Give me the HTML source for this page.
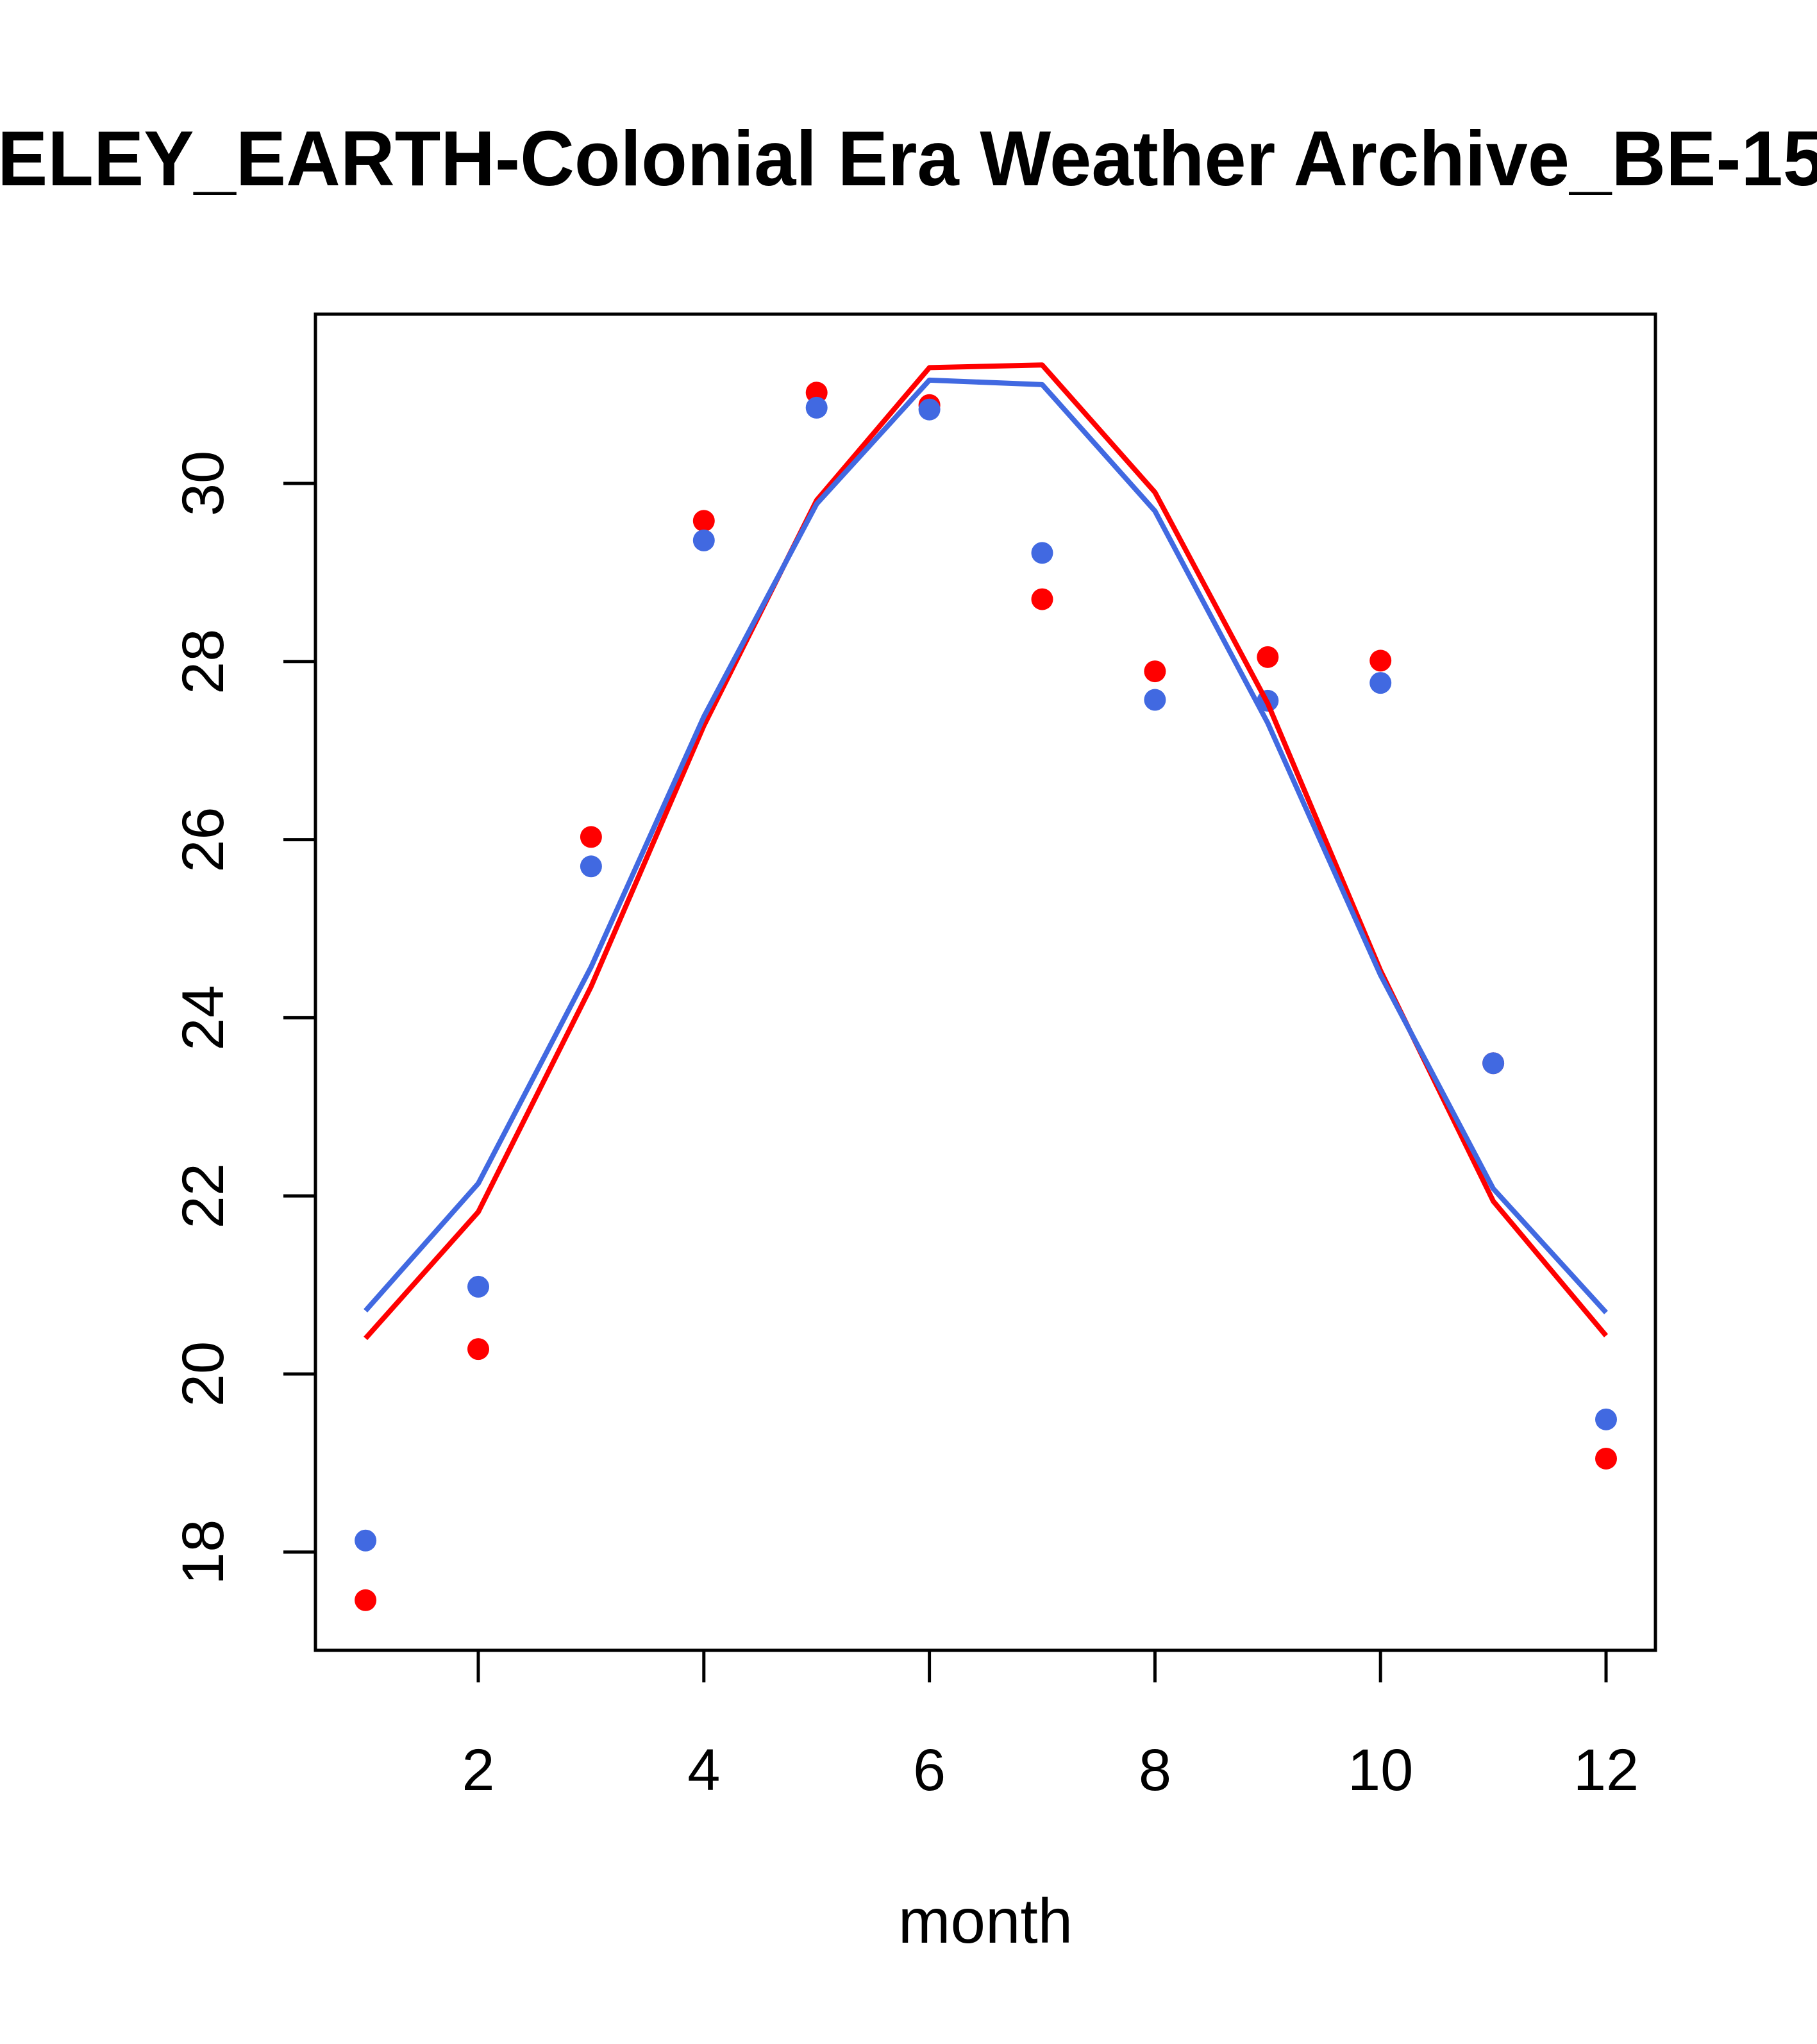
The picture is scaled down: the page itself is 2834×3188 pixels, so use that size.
<!DOCTYPE html>
<html><head><meta charset="utf-8"><style>html,body{margin:0;padding:0;background:#fff}svg{display:block}</style></head>
<body>
<svg id="chart" width="2834" height="3188" viewBox="0 0 2834 3188" xmlns="http://www.w3.org/2000/svg" font-family="Liberation Sans, Arial, sans-serif">
<rect width="2834" height="3188" fill="#fff"/>
<text x="-4" y="289" font-size="122" font-weight="bold" textLength="2850" lengthAdjust="spacingAndGlyphs">ELEY_EARTH-Colonial Era Weather Archive_BE-15</text>
<rect x="492" y="490" width="2090" height="2084" fill="none" stroke="#000" stroke-width="5"/>
<g id="axes"></g>
<g id="marks"></g>
<text x="1537" y="3030" font-size="98" text-anchor="middle">month</text>
</svg>
<script>
const months = [1,2,3,4,5,6,7,8,9,10,11,12];
const redPoints = [17.46,20.28,26.03,29.58,31.02,30.88,28.70,27.89,28.05,28.01,23.49,19.05];
const bluePoints = [18.13,20.98,25.70,29.36,30.85,30.83,29.22,27.57,27.56,27.76,23.49,19.49];
const redLine = [20.40,21.82,24.35,27.28,29.81,31.30,31.33,29.90,27.53,24.53,21.94,20.43];
const blueLine = [20.71,22.14,24.57,27.38,29.77,31.16,31.11,29.69,27.31,24.48,22.08,20.69];
const xTicks = [2,4,6,8,10,12];
const yTicks = [18,20,22,24,26,28,30];

const NS = "http://www.w3.org/2000/svg";
function X(m){ return 746 + (m-2)*175.9; }
function Y(v){ return 754 + (30-v)*138.9; }
function mk(tag, attrs, parent){ const e=document.createElementNS(NS,tag); for(const k in attrs) e.setAttribute(k,attrs[k]); parent.appendChild(e); return e; }
const axes=document.getElementById('axes'), marks=document.getElementById('marks');

xTicks.forEach(t=>{
  const l=mk('line',{x1:X(t),x2:X(t),y1:2574,y2:2624,stroke:'#000','stroke-width':5},axes);
  
  
  const tx=mk('text',{x:X(t),y:2792,'font-size':92,'text-anchor':'middle'},axes);
  tx.textContent=t;
  
  
});
yTicks.forEach(t=>{
  const l=mk('line',{x1:442,x2:492,y1:Y(t),y2:Y(t),stroke:'#000','stroke-width':5},axes);
  
  
  const tx=mk('text',{x:0,y:0,'font-size':92,'text-anchor':'middle',transform:`translate(348,${Y(t)}) rotate(-90)`},axes);
  tx.textContent=t;
  
  
});
function line(vals,color,name){
  const p=mk('polyline',{points:months.map((m,i)=>X(m)+','+Y(vals[i])).join(' '),fill:'none',stroke:color,'stroke-width':8,'stroke-linejoin':'round'},marks);
  
  
}
function pts(vals,color,name){
  months.forEach((m,i)=>{
    const c=mk('circle',{cx:X(m),cy:Y(vals[i]),r:17,fill:color},marks);
    
    
  });
}
pts(redPoints,'#ff0000','red-point');
pts(bluePoints,'#4169e1','blue-point');
line(redLine,'#ff0000','red-line');
line(blueLine,'#4169e1','blue-line');
</script>
</body></html>
